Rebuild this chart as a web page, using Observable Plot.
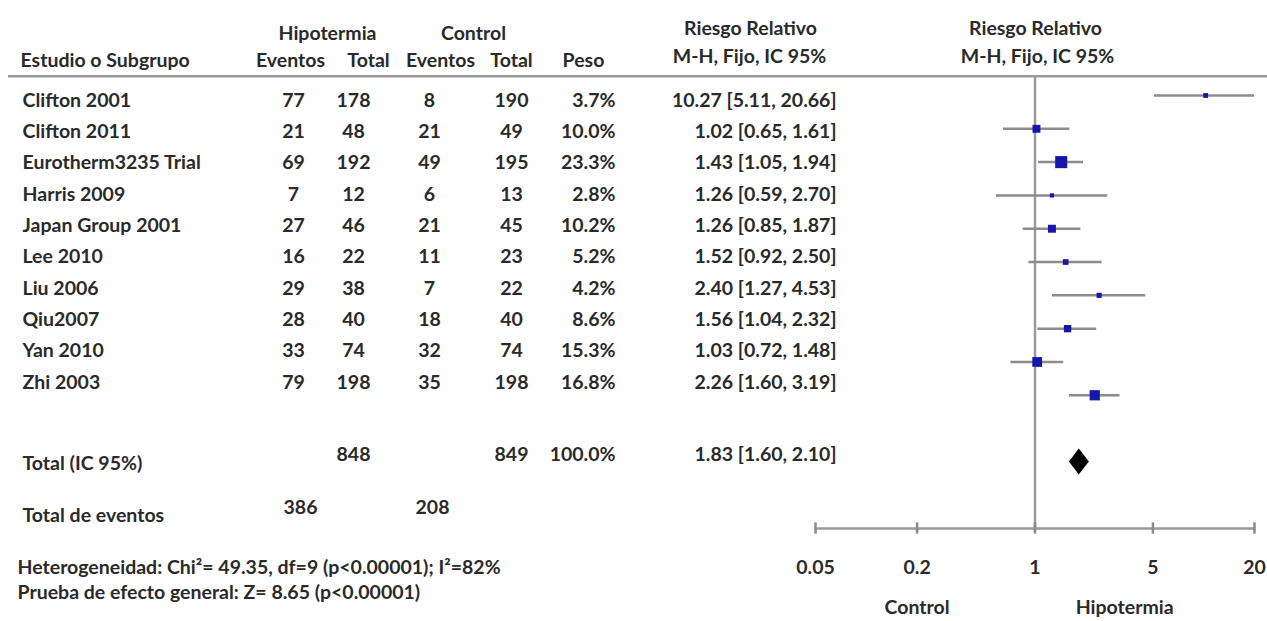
<!DOCTYPE html>
<html>
<head>
<meta charset="utf-8">
<script src="https://cdn.jsdelivr.net/npm/d3@7"></script>
<script src="https://cdn.jsdelivr.net/npm/@observablehq/plot@0.6"></script>
<style>
  body { margin: 0; background: #fff; }
  #chart { position: relative; width: 1267px; height: 621px; }
  #chart svg { position: absolute; left: 0; top: 0; }
</style>
</head>
<body>
<div id="chart"></div>
<script>
// Studies included in the meta-analysis (hypothermia vs control)
const studies = ["Clifton 2001", "Clifton 2011", "Eurotherm3235 Trial", "Harris 2009", "Japan Group 2001",
                 "Lee 2010", "Liu 2006", "Qiu2007", "Yan 2010", "Zhi 2003"];
const hypoEvents = [77, 21, 69, 7, 27, 16, 29, 28, 33, 79];
const hypoTotal  = [178, 48, 192, 12, 46, 22, 38, 40, 74, 198];
const ctrlEvents = [8, 21, 49, 6, 21, 11, 7, 18, 32, 35];
const ctrlTotal  = [190, 49, 195, 13, 45, 23, 22, 40, 74, 198];
const weights    = [3.7, 10.0, 23.3, 2.8, 10.2, 5.2, 4.2, 8.6, 15.3, 16.8];
const rr         = [10.27, 1.02, 1.43, 1.26, 1.26, 1.52, 2.40, 1.56, 1.03, 2.26];
const rrLow      = [5.11, 0.65, 1.05, 0.59, 0.85, 0.92, 1.27, 1.04, 0.72, 1.60];
const rrHigh     = [20.66, 1.61, 1.94, 2.70, 1.87, 2.50, 4.53, 2.32, 1.48, 3.19];

// Pooled (fixed-effect, Mantel-Haenszel) result and totals
const pooledRR = 1.83, pooledLow = 1.60, pooledHigh = 2.10;
const totalHypo = 848, totalCtrl = 849, totalWeight = 100.0;
const eventsHypo = 386, eventsCtrl = 208;
const heterogeneityText = "Heterogeneidad: Chi\u00b2= 49.35, df=9 (p<0.00001); I\u00b2=82%";
const overallText = "Prueba de efecto general: Z= 8.65 (p<0.00001)";

// Forest axis
const axisTicks = [0.05, 0.2, 1, 5, 20];
const axisTickLabels = ["0.05", "0.2", "1", "5", "20"];

const fmt2 = d3.format(".2f");
const fmtW = d => d.toFixed(1) + "%";
const rrLabel = (m, lo, hi) => `${fmt2(m)} [${fmt2(lo)}, ${fmt2(hi)}]`;

const rows = studies.map((s, i) => ({
  i, study: s,
  hEv: hypoEvents[i], hTot: hypoTotal[i], cEv: ctrlEvents[i], cTot: ctrlTotal[i],
  w: weights[i], rr: rr[i], lo: rrLow[i], hi: rrHigh[i],
  label: rrLabel(rr[i], rrLow[i], rrHigh[i])
}));

const W = 1267, H = 621;
const ink = "#2a2a2a";
const font = {fontFamily: "Lato, 'Open Sans', sans-serif", fontSize: 19.5, fontWeight: "bold", fill: ink};

// Table layout: horizontal column anchors and vertical positions in row units
const col = {study: 22, hEv: 293, hTot: 353, cEv: 429, cTot: 511, peso: 615, rrText: 836};
const head = {group: -2.14, sub: -1.28, rrTop: -2.28, rrSub: -1.4, rule: -0.77};
const summary = {totalLabel: 11.59, totalNums: 11.3, eventsLabel: 13.25, eventsNums: 12.99, het: 14.9, overall: 15.7};

const t = (data, opts) => Plot.text(data, {...font, ...opts});

const table = Plot.plot({
  width: W, height: H, margin: 0,
  x: {domain: [0, W], range: [0, W], axis: null},
  y: {domain: [0, 9], range: [100, 382], axis: null},
  marks: [
    // column headers
    t(["Hipotermia"], {x: 327, y: head.group, text: d => d}),
    t(["Control"], {x: 473, y: head.group, text: d => d}),
    t(["Riesgo Relativo"], {x: 750, y: head.rrTop, text: d => d}),
    t(["Riesgo Relativo"], {x: 1035, y: head.rrTop, text: d => d}),
    t(["Estudio o Subgrupo"], {x: col.study - 2, y: head.sub, text: d => d, textAnchor: "start"}),
    t(["Eventos"], {x: 290, y: head.sub, text: d => d}),
    t(["Total"], {x: 368, y: head.sub, text: d => d}),
    t(["Eventos"], {x: 440, y: head.sub, text: d => d}),
    t(["Total"], {x: 511, y: head.sub, text: d => d}),
    t(["Peso"], {x: 583, y: head.sub, text: d => d}),
    t(["M-H, Fijo, IC 95%"], {x: 749, y: head.rrSub, text: d => d}),
    t(["M-H, Fijo, IC 95%"], {x: 1037, y: head.rrSub, text: d => d}),
    Plot.ruleY([head.rule], {x1: 8, x2: W, stroke: "#9a9a9a", strokeWidth: 2.5}),

    // study rows
    t(rows, {x: col.study, y: "i", text: "study", textAnchor: "start"}),
    t(rows, {x: col.hEv, y: "i", text: "hEv"}),
    t(rows, {x: col.hTot, y: "i", text: "hTot"}),
    t(rows, {x: col.cEv, y: "i", text: "cEv"}),
    t(rows, {x: col.cTot, y: "i", text: "cTot"}),
    t(rows, {x: col.peso, y: "i", text: d => fmtW(d.w), textAnchor: "end"}),
    t(rows, {x: col.rrText, y: "i", text: "label", textAnchor: "end"}),

    // totals
    t(["Total (IC 95%)"], {x: col.study, y: summary.totalLabel, text: d => d, textAnchor: "start"}),
    t([totalHypo], {x: col.hTot, y: summary.totalNums, text: d => d}),
    t([totalCtrl], {x: col.cTot, y: summary.totalNums, text: d => d}),
    t([totalWeight], {x: col.peso, y: summary.totalNums, text: fmtW, textAnchor: "end"}),
    t([0], {x: col.rrText, y: summary.totalNums, text: () => rrLabel(pooledRR, pooledLow, pooledHigh), textAnchor: "end"}),
    t(["Total de eventos"], {x: col.study, y: summary.eventsLabel, text: d => d, textAnchor: "start"}),
    t([eventsHypo], {x: 300, y: summary.eventsNums, text: d => d}),
    t([eventsCtrl], {x: col.cEv + 3, y: summary.eventsNums, text: d => d}),
    t([heterogeneityText], {x: 17, y: summary.het, text: d => d, textAnchor: "start"}),
    t([overallText], {x: 17, y: summary.overall, text: d => d, textAnchor: "start"})
  ]
});

// Forest plot: log-scaled relative risk, one row per study, pooled diamond at row 11, axis at row 13
const diamondHalf = 0.39;
const diamond = [
  {x: pooledLow, y1: 11, y2: 11},
  {x: pooledRR, y1: 11 - diamondHalf, y2: 11 + diamondHalf},
  {x: pooledHigh, y1: 11, y2: 11}
];
const ticks = axisTicks.map((v, k) => ({v, label: axisTickLabels[k]}));

const forest = Plot.plot({
  width: W, height: H,
  marginLeft: 815, marginRight: 13, marginTop: 76, marginBottom: 93,
  style: {background: "transparent"},
  x: {type: "log", domain: [0.05, 20], axis: null},
  y: {domain: [0, 13], range: [95, 528], axis: null},
  r: {type: "sqrt", domain: [0, 23.3], range: [0, 6.8]},
  marks: [
    Plot.ruleX([1], {stroke: "#9a9a9a", strokeWidth: 2.5}),
    Plot.ruleY([13], {stroke: "#9a9a9a", strokeWidth: 2.5}),
    Plot.ruleX(ticks, {x: "v", y1: 12.83, y2: 13.17, stroke: "#8a8a8a", strokeWidth: 2.5}),
    t(ticks, {x: "v", y: 13, dy: 39, text: "label"}),
    t(["Control"], {x: 0.2, y: 13, dy: 79, text: d => d}),
    t(["Hipotermia"], {x: 3.4, y: 13, dy: 79, text: d => d}),
    Plot.ruleY(rows, {y: "i", x1: "lo", x2: "hi", stroke: "#8c8c8c", strokeWidth: 2.5, clip: true}),
    Plot.dot(rows, {x: "rr", y: "i", r: "w", symbol: "square", fill: "#1616aa", stroke: "none"}),
    Plot.areaY(diamond, {x: "x", y1: "y1", y2: "y2", fill: "#000"})
  ]
});

const chart = document.getElementById("chart");
chart.append(table, forest);
</script>
</body>
</html>
